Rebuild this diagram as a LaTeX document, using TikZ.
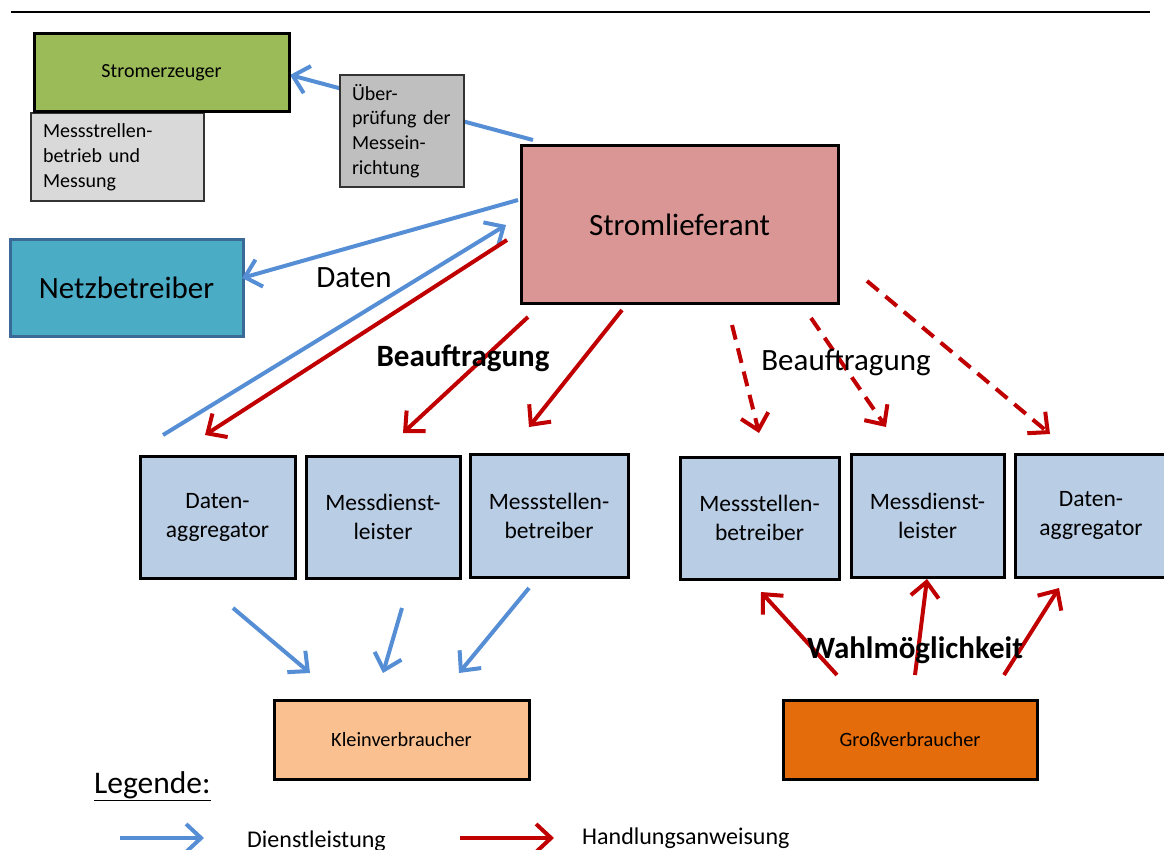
\documentclass[tikz,border=0pt]{standalone}
\usepackage{fontspec}
\setmainfont{Carlito}
\usetikzlibrary{arrows.meta}
\definecolor{cgreen}{HTML}{9BBB59}
\definecolor{clgray}{HTML}{D9D9D9}
\definecolor{cgray}{HTML}{BFBFBF}
\definecolor{cpink}{HTML}{D99694}
\definecolor{cteal}{HTML}{4BACC6}
\definecolor{ctealb}{HTML}{3A6A98}
\definecolor{clblue}{HTML}{B9CDE5}
\definecolor{cpeach}{HTML}{FAC090}
\definecolor{corange}{HTML}{E46C0A}
\definecolor{cblue}{HTML}{558ED5}
\definecolor{cred}{HTML}{C00000}
\tikzset{
  thickbox/.style={draw=black, line width=3pt, rectangle, inner sep=0pt, align=center},
  thinbox/.style={draw=black!80, line width=1.5pt, rectangle, inner sep=0pt},
  rowbox/.style={thickbox, fill=clblue, font=\fontsize{23.5}{29}\selectfont},
  tip/.style={-{Straight Barb[length=15pt,width=28pt]}},
  bluearr/.style={tip, draw=cblue, line width=4pt},
  redarr/.style={tip, draw=cred, line width=4pt},
  reddash/.style={redarr, dash pattern=on 15pt off 9pt},
  biglabel/.style={font=\fontsize{31}{37}\selectfont, inner sep=0pt},
}
\begin{document}
\begin{tikzpicture}[x=1pt,y=-1pt]
\useasboundingbox (0,0) rectangle (1164,850);
\draw[line width=2pt] (11,12.5) -- (1150,12.5);

% connector end points
\coordinate (a1s) at (533,140);  \coordinate (a1e) at (290,75);
\coordinate (a2s) at (518,200);  \coordinate (a2e) at (242,278);
\coordinate (a3s) at (163,435);  \coordinate (a3e) at (506,225);
\coordinate (a4s) at (507,240);  \coordinate (a4e) at (205,435);
\coordinate (a5s) at (528,317);  \coordinate (a5e) at (403,433);
\coordinate (a6s) at (622,310);  \coordinate (a6e) at (529,427);
\coordinate (a7s) at (732,325);  \coordinate (a7e) at (759,433);
\coordinate (a8s) at (811,318);  \coordinate (a8e) at (886,427);
\coordinate (a9s) at (867,281);  \coordinate (a9e) at (1050,434);
\coordinate (b1s) at (233,608);  \coordinate (b1e) at (310,673);
\coordinate (b2s) at (402,608);  \coordinate (b2e) at (383,673);
\coordinate (b3s) at (529,588);  \coordinate (b3e) at (459,673);
\coordinate (c1s) at (837,675);  \coordinate (c1e) at (761,592);
\coordinate (c2s) at (915,675);  \coordinate (c2e) at (927,579);
\coordinate (c3s) at (1004,675); \coordinate (c3e) at (1059,588);

% arrow passing behind the grey label box
\draw[bluearr] (a1s) -- (a1e);

% boxes
\node[thinbox, fill=clgray, minimum width=173pt, minimum height=88pt, text width=149pt, align=left, font=\fontsize{20}{25}\selectfont] (mess) at (117.5,157) {Messstrellen-\\betrieb und\\Messung};
\node[thickbox, fill=cgreen, minimum width=255pt, minimum height=78pt, font=\fontsize{20}{25}\selectfont] (se) at (161.5,73) {Stromerzeuger};
\node[thinbox, fill=cgray, minimum width=124pt, minimum height=112pt, text width=100pt, align=left, font=\fontsize{20}{24.7}\selectfont] (ueb) at (402,131) {Über-\\prüfung der\\Messein-\\richtung};
\node[thickbox, fill=cpink, minimum width=317pt, minimum height=157pt, font=\fontsize{31}{37}\selectfont] (sl) at (679.5,224.5) {Stromlieferant};
\node[thickbox, draw=ctealb, fill=cteal, minimum width=233pt, minimum height=96pt, font=\fontsize{31}{37}\selectfont] (nb) at (126.5,288) {Netzbetreiber};

\node[rowbox, minimum width=155pt, minimum height=122pt] (l1) at (217.5,517) {Daten-\\aggregator};
\node[rowbox, minimum width=154pt, minimum height=122pt] (l2) at (383,517) {Messdienst-\\leister};
\node[rowbox, minimum width=158pt, minimum height=123pt] (l3) at (549,515.5) {Messstellen-\\betreiber};
\node[rowbox, minimum width=159pt, minimum height=122pt] (r1) at (759.5,518) {Messstellen-\\betreiber};
\node[rowbox, minimum width=153pt, minimum height=123pt] (r2) at (927.5,515.5) {Messdienst-\\leister};
\node[rowbox, minimum width=152pt, minimum height=123pt] (r3) at (1091,515.5) {Daten-\\aggregator};

\node[thickbox, fill=cpeach, minimum width=255pt, minimum height=79pt, font=\fontsize{20.3}{25}\selectfont] (kv) at (401.5,739.5) {Kleinverbraucher};
\node[thickbox, fill=corange, minimum width=254pt, minimum height=79pt, font=\fontsize{20.3}{25}\selectfont] (gv) at (910,739.5) {Großverbraucher};

\draw[bluearr] (a2s) -- (a2e);
\draw[bluearr] (a3s) -- (a3e);
\draw[redarr] (a4s) -- (a4e);
\draw[redarr] (a5s) -- (a5e);
\draw[redarr] (a6s) -- (a6e);
\draw[reddash] (a7s) -- (a7e);
\draw[reddash] (a8s) -- (a8e);
\draw[reddash] (a9s) -- (a9e);
\draw[bluearr] (b1s) -- (b1e);
\draw[bluearr] (b2s) -- (b2e);
\draw[bluearr] (b3s) -- (b3e);
\draw[redarr] (c1s) -- (c1e);
\draw[redarr] (c2s) -- (c2e);
\draw[redarr] (c3s) -- (c3e);

% labels
\node[biglabel] (ldaten) at (354,278) {Daten};
\node[biglabel, font=\fontsize{31}{37}\selectfont\bfseries] (lbeauf1) at (463,358) {Beauftragung};
\node[biglabel] (lbeauf2) at (846,363) {Beauftragung};
\node[biglabel, font=\fontsize{31}{37}\selectfont\bfseries] (lwahl) at (915,650) {Wahlmöglichkeit};

% legend
\node[biglabel, font=\fontsize{31.5}{37}\selectfont, anchor=base west] (leg) at (94,793) {\underline{Legende:}};
\coordinate (g1s) at (120,838); \coordinate (g1e) at (204,838);
\coordinate (g2s) at (460,838); \coordinate (g2e) at (554,838);
\draw[bluearr] (g1s) -- (g1e);
\draw[redarr] (g2s) -- (g2e);
\node[anchor=base west, inner sep=0pt, font=\fontsize{24}{29}\selectfont] (ldl) at (247,847) {Dienstleistung};
\node[anchor=base west, inner sep=0pt, font=\fontsize{24}{29}\selectfont] (lha) at (582,844) {Handlungsanweisung};
\end{tikzpicture}
\end{document}
